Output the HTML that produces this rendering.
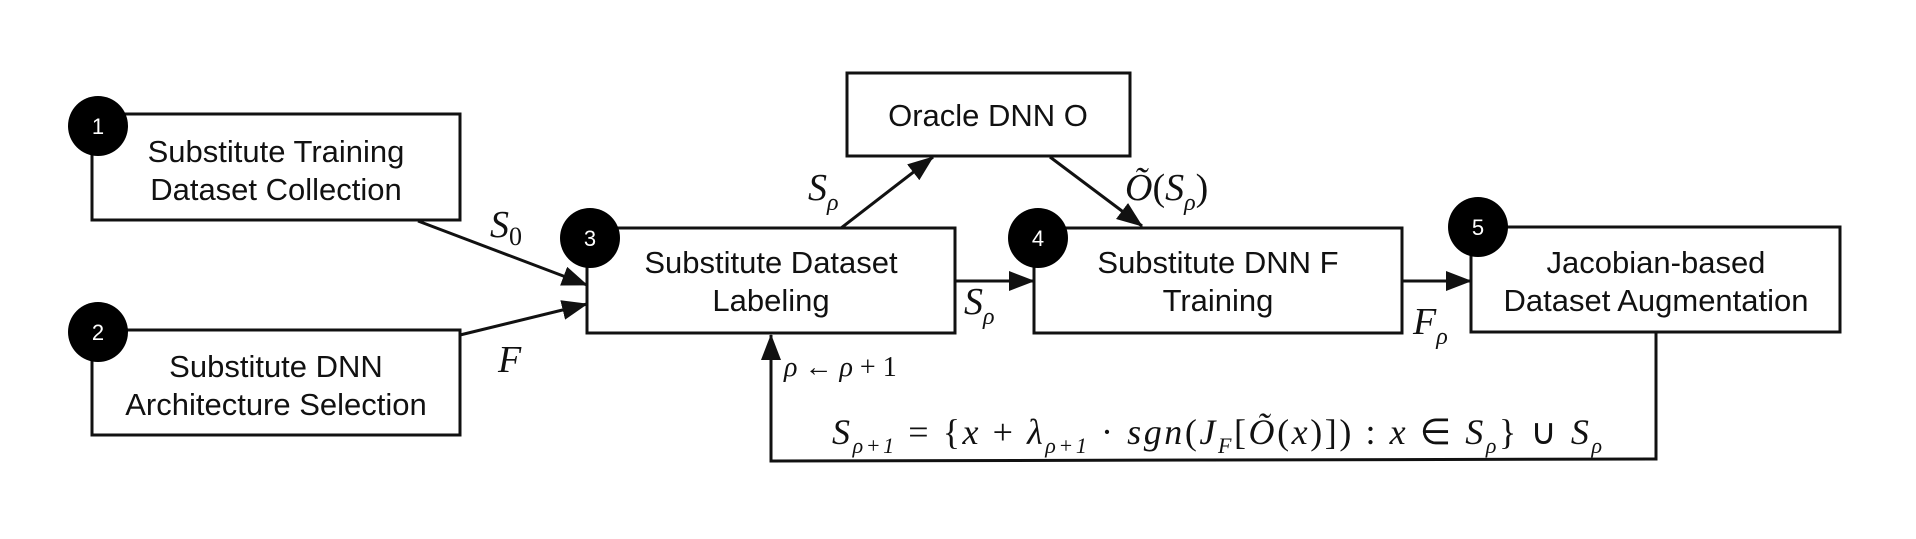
<!DOCTYPE html>
<html><head><meta charset="utf-8"><style>
html,body{margin:0;padding:0;background:#fff;}
svg{display:block;}
.b{font-family:"Liberation Sans",sans-serif;font-size:31px;fill:#111;text-anchor:middle;}
.m{font-family:"Liberation Serif",serif;font-style:italic;fill:#111;}
.n{font-family:"Liberation Sans",sans-serif;font-size:22px;fill:#fff;text-anchor:middle;}
</style></head><body>
<svg width="1916" height="539" viewBox="0 0 1916 539" xmlns="http://www.w3.org/2000/svg">
<defs><marker id="A" markerWidth="26" markerHeight="20" refX="25" refY="10" orient="auto" markerUnits="userSpaceOnUse"><path d="M0,0 L26,10 L0,20 z" fill="#111"/></marker></defs>
<g fill="#fff" stroke="#111" stroke-width="3">
<rect x="92" y="114" width="368" height="106"/>
<rect x="92" y="330" width="368" height="105"/>
<rect x="847" y="73" width="283" height="83"/>
<rect x="587" y="228" width="368" height="105"/>
<rect x="1034" y="228" width="368" height="105"/>
<rect x="1471" y="227" width="369" height="105"/>
</g>
<g fill="#000"><circle cx="98" cy="126" r="30"/><circle cx="98" cy="332" r="30"/><circle cx="590" cy="238" r="30"/><circle cx="1038" cy="238" r="30"/><circle cx="1478" cy="227" r="30"/></g>
<g><text class="n" x="98" y="134">1</text><text class="n" x="98" y="340">2</text><text class="n" x="590" y="246">3</text><text class="n" x="1038" y="246">4</text><text class="n" x="1478" y="235">5</text></g>
<g stroke="#111" stroke-width="3" fill="none" marker-end="url(#A)">
<line x1="418" y1="221" x2="587" y2="285"/>
<line x1="460" y1="335" x2="587" y2="304"/>
<line x1="841" y1="228" x2="933" y2="157"/>
<line x1="1050" y1="157" x2="1142" y2="226"/>
<line x1="955" y1="281" x2="1034" y2="281"/>
<line x1="1402" y1="281" x2="1471" y2="281"/>
<polyline points="1656,332 1656,459 771,461 771,335"/>
</g>
<g class="b">
<text x="276" y="162">Substitute Training</text><text x="276" y="200">Dataset Collection</text>
<text x="276" y="377">Substitute DNN</text><text x="276" y="415">Architecture Selection</text>
<text x="988" y="126">Oracle DNN O</text>
<text x="771" y="273">Substitute Dataset</text><text x="771" y="311">Labeling</text>
<text x="1218" y="273">Substitute DNN F</text><text x="1218" y="311">Training</text>
<text x="1656" y="273">Jacobian-based</text><text x="1656" y="311">Dataset Augmentation</text>
</g>
<g class="m" font-size="38">
<text x="490" y="237">S<tspan font-size="26" dy="8" font-style="normal">0</tspan></text>
<text x="498" y="372">F</text>
<text x="808" y="200">S<tspan font-size="24" dy="10">ρ</tspan></text>
<text x="1125" y="200">Õ<tspan font-style="normal">(</tspan>S<tspan font-size="24" dy="10">ρ</tspan><tspan dy="-10" font-style="normal">)</tspan></text>
<text x="964" y="314">S<tspan font-size="24" dy="10">ρ</tspan></text>
<text x="1413" y="334">F<tspan font-size="24" dy="10">ρ</tspan></text>
<text x="784" y="376" font-size="28">ρ <tspan font-style="normal">←</tspan> ρ <tspan font-style="normal">+ 1</tspan></text>
<text x="832" y="444" font-size="36" textLength="770" lengthAdjust="spacing">S<tspan font-size="22" dy="9">ρ+1</tspan><tspan dy="-9" font-style="normal"> = {</tspan>x <tspan font-style="normal">+</tspan> λ<tspan font-size="22" dy="9">ρ+1</tspan><tspan dy="-9" font-style="normal"> · </tspan>sgn<tspan font-style="normal">(</tspan>J<tspan font-size="22" dy="9">F</tspan><tspan dy="-9" font-style="normal">[</tspan>Õ<tspan font-style="normal">(</tspan>x<tspan font-style="normal">)]) : </tspan>x <tspan font-style="normal">∈</tspan> S<tspan font-size="22" dy="9">ρ</tspan><tspan dy="-9" font-style="normal">} ∪ </tspan>S<tspan font-size="22" dy="9">ρ</tspan></text>
</g>
</svg>
</body></html>
